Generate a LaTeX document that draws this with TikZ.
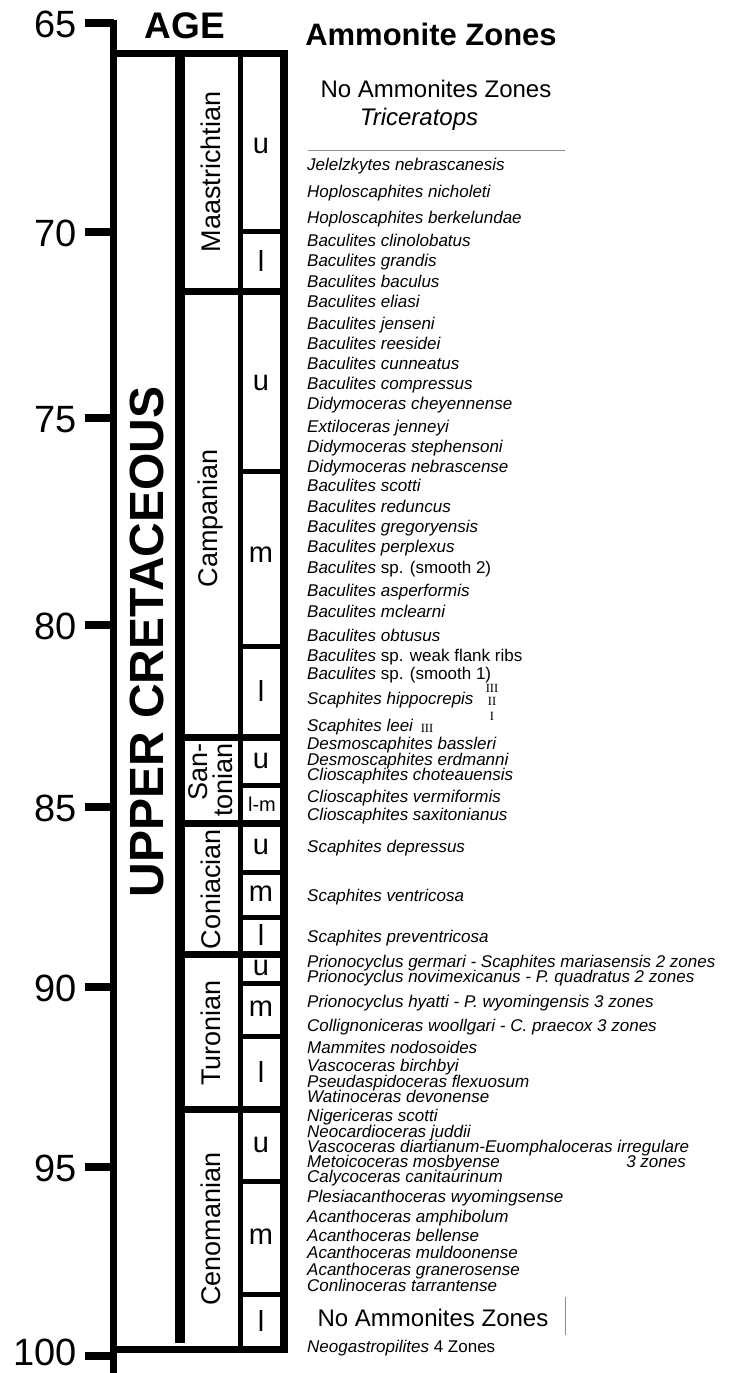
\documentclass[tikz,border=0pt]{standalone}
\usepackage{fontspec}
\setmainfont{Liberation Sans}
\newfontfamily\romanum{Liberation Serif}
\newcommand\spz[3]{\node[sp] (#1) at (307,{#2+5}) {#3};}
\begin{document}
\begin{tikzpicture}[x=1pt,y=-1pt,
  sp/.style={anchor=base west,inner sep=0pt,font=\fontsize{17}{17}\selectfont\itshape},
  agelbl/.style={anchor=base east,inner sep=0pt,font=\fontsize{38}{38}\selectfont},
  stagelbl/.style={rotate=90,inner sep=0pt,font=\fontsize{27}{25}\selectfont},
  sublbl/.style={inner sep=0pt,font=\fontsize{29}{29}\selectfont},
  rn/.style={inner sep=0pt,font=\fontsize{12.5}{12.5}\selectfont\romanum},
  bigtxt/.style={anchor=base,inner sep=0pt,font=\fontsize{24}{24}\selectfont},
  thickrule/.style={line width=7pt},
  subrule/.style={line width=5pt},
  thinrule/.style={line width=1pt,black!45}
]
\useasboundingbox (0,0) rectangle (735,1373);
\fill[white] (0,0) rectangle (735,1373);
% spine and age ticks
\draw[line width=7pt] (113.5,19.5) -- (113.5,1373);
\foreach \a/\y/\b in {65/23/37,70/232/246,75/418/432,80/625/639,85/807/821,90/987/1001,95/1167/1181,100/1356/1365} {
  \draw[line width=8pt] (85,\y) -- (113.5,\y);
  \node[agelbl] (age\a) at (77,\b) {\a};
}
% frame
\draw[thickrule] (110,53) -- (288,53);
\draw[thickrule] (110,1349) -- (288,1349);
\draw[line width=8pt] (284,49.5) -- (284,1352.5);
\draw[line width=10pt] (180,53) -- (180,1343);
\draw[subrule] (240,53) -- (240,1349);
% stage boundaries
\foreach \y in {291,737,823,954,1109} \draw[thickrule] (180,\y) -- (284,\y);
% substage boundaries
\foreach \y in {231,471,646,785,872,917,983,1036,1181,1294} \draw[subrule] (240,\y) -- (284,\y);
% headings
\node[anchor=base,inner sep=0pt,font=\bfseries\fontsize{37}{37}\selectfont] (agehead) at (185,38) {AGE};
\node[anchor=base,inner sep=0pt,font=\bfseries\fontsize{31}{31}\selectfont] (amhead) at (431,45) {Ammonite Zones};
% era
\node[rotate=90,inner sep=0pt,font=\bfseries\fontsize{48}{48}\selectfont] (era) at (147,642) {UPPER CRETACEOUS};
% stages
\node[stagelbl] (maa) at (211,172) {Maastrichtian};
\node[stagelbl] (cam) at (211,518) {Campanian};
\node[stagelbl,align=right] (san) at (211,780) {San-\\tonian};
\node[stagelbl] (con) at (211,889) {Coniacian};
\node[stagelbl] (tur) at (211,1033) {Turonian};
\node[stagelbl] (cen) at (211,1229) {Cenomanian};
% substages
\node[sublbl] (maau) at (261,146) {u};
\node[sublbl] (maal) at (261,261) {l};
\node[sublbl] (camu) at (261,383) {u};
\node[sublbl] (camm) at (261,555) {m};
\node[sublbl] (caml) at (261,691) {l};
\node[sublbl] (sanu) at (261,761) {u};
\node[inner sep=0pt,font=\fontsize{20}{20}\selectfont] (sanlm) at (262,804) {l-m};
\node[sublbl] (conu) at (261,847) {u};
\node[sublbl] (conm) at (261,894) {m};
\node[sublbl] (conl) at (261,935) {l};
\node[sublbl] (turu) at (261,968) {u};
\node[sublbl] (turm) at (261,1009) {m};
\node[sublbl] (turl) at (261,1072) {l};
\node[sublbl] (cenu) at (261,1145) {u};
\node[sublbl] (cenm) at (261,1237) {m};
\node[sublbl] (cenl) at (261,1321) {l};
% top block
\node[bigtxt] (noamm1) at (436,97) {No Ammonites Zones};
\node[bigtxt,font=\fontsize{24}{24}\selectfont\itshape] (trice) at (419,125) {Triceratops};
\draw[thinrule] (308,150) -- (565,150);
% species
\spz{s1}{165}{Jelelzkytes nebrascanesis}
\spz{s2}{192}{Hoploscaphites nicholeti}
\spz{s3}{218}{Hoploscaphites berkelundae}
\spz{s4}{241}{Baculites clinolobatus}
\spz{s5}{261}{Baculites grandis}
\spz{s6}{282}{Baculites baculus}
\spz{s7}{302}{Baculites eliasi}
\spz{s8}{324}{Baculites jenseni}
\spz{s9}{344}{Baculites reesidei}
\spz{s10}{364}{Baculites cunneatus}
\spz{s11}{384}{Baculites compressus}
\spz{s12}{404}{Didymoceras cheyennense}
\spz{s13}{427}{Extiloceras jenneyi}
\spz{s14}{447}{Didymoceras stephensoni}
\spz{s15}{467}{Didymoceras nebrascense}
\spz{s16}{486}{Baculites scotti}
\spz{s17}{507}{Baculites reduncus}
\spz{s18}{527}{Baculites gregoryensis}
\spz{s19}{547}{Baculites perplexus}
\spz{s20}{568}{Baculites \textup{sp. (smooth 2)}}
\spz{s21}{591}{Baculites asperformis}
\spz{s22}{612}{Baculites mclearni}
\spz{s23}{636}{Baculites obtusus}
\spz{s24}{656}{Baculites \textup{sp. weak flank ribs}}
\spz{s25}{674}{Baculites \textup{sp. (smooth 1)}}
\spz{s26}{699}{Scaphites hippocrepis}
\node[rn] (h3) at (492,688) {III};
\node[rn] (h2) at (492,701) {II};
\node[rn] (h1) at (492,716) {I};
\spz{s27}{726}{Scaphites leei}
\node[rn] (l3) at (427,728) {III};
\spz{s28}{744}{Desmoscaphites bassleri}
\spz{s29}{760}{Desmoscaphites erdmanni}
\spz{s30}{775}{Clioscaphites choteauensis}
\spz{s31}{797}{Clioscaphites vermiformis}
\spz{s32}{815}{Clioscaphites saxitonianus}
\spz{s33}{847}{Scaphites depressus}
\spz{s34}{896}{Scaphites ventricosa}
\spz{s35}{937}{Scaphites preventricosa}
\spz{s36}{962}{Prionocyclus germari - Scaphites mariasensis 2 zones}
\spz{s37}{977}{Prionocyclus novimexicanus - P. quadratus 2 zones}
\spz{s38}{1002}{Prionocyclus hyatti - P. wyomingensis 3 zones}
\spz{s39}{1026}{Collignoniceras woollgari - C. praecox 3 zones}
\spz{s40}{1048}{Mammites nodosoides}
\spz{s41}{1066}{Vascoceras birchbyi}
\spz{s42}{1082}{Pseudaspidoceras flexuosum}
\spz{s43}{1097}{Watinoceras devonense}
\spz{s44}{1116}{Nigericeras scotti}
\spz{s45}{1132}{Neocardioceras juddii}
\spz{s46}{1147}{Vascoceras diartianum-Euomphaloceras irregulare}
\spz{s47}{1162}{Metoicoceras mosbyense}
\node[sp,anchor=base east] (s47z) at (686,1167) {3 zones};
\spz{s48}{1177}{Calycoceras canitaurinum}
\spz{s49}{1197}{Plesiacanthoceras wyomingsense}
\spz{s50}{1217}{Acanthoceras amphibolum}
\spz{s51}{1236}{Acanthoceras bellense}
\spz{s52}{1253}{Acanthoceras muldoonense}
\spz{s53}{1270}{Acanthoceras granerosense}
\spz{s54}{1286}{Conlinoceras tarrantense}
\node[bigtxt] (noamm2) at (433,1326) {No Ammonites Zones};
\draw[thinrule] (565,1297) -- (565,1335);
\spz{s55}{1347}{Neogastropilites \textup{4 Zones}}
\end{tikzpicture}
\end{document}
